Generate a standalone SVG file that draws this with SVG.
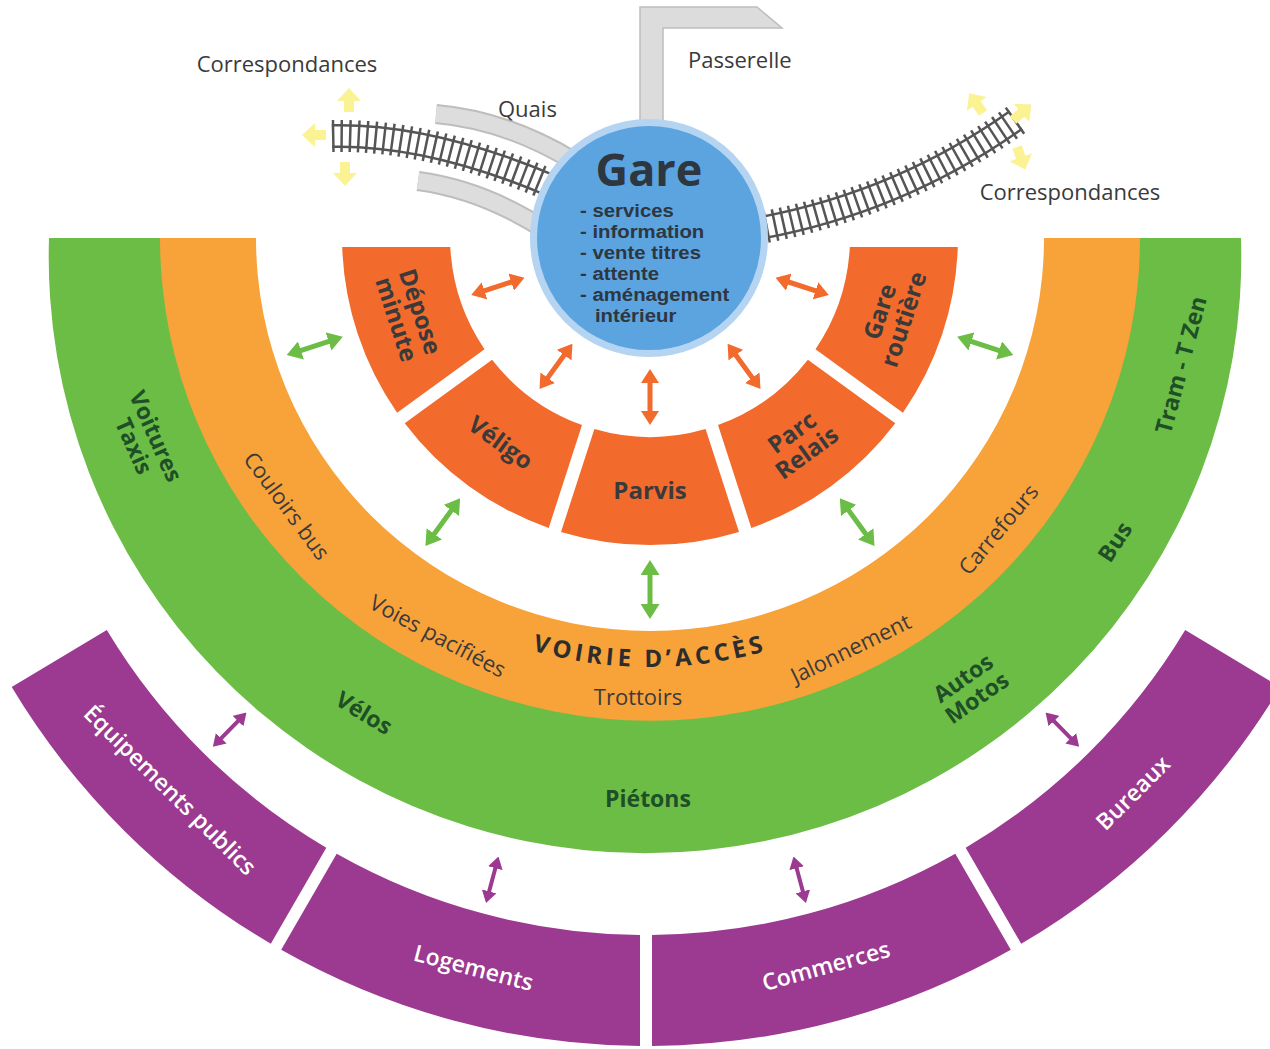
<svg xmlns="http://www.w3.org/2000/svg" width="1270" height="1049" viewBox="0 0 1270 1049">
<style>
text { font-family: "Open Sans", "Noto Sans", "Liberation Sans", sans-serif; }
.lbl { font-size: 22px; fill: #3a3a3a; }
.sec { font-size: 24px; font-weight: 700; fill: #3a3a3a; text-anchor: middle; }
.grn { font-size: 23px; font-weight: 700; fill: #1f4f27; text-anchor: middle; }
.org { font-size: 22px; fill: #3b3b3b; text-anchor: middle; }
.pur { font-size: 23px; font-weight: 600; fill: #ffffff; text-anchor: middle; }
.gl { font-family: "Liberation Sans", Arial, sans-serif; font-size: 18.5px; font-weight: 700; fill: #2e3640; }
.sector { fill: #f26a2c; }
.purple { fill: #9b3a90; }
.quai-o { fill: none; stroke: #bdbdbd; stroke-width: 20; }
.quai-i { fill: none; stroke: #dddddd; stroke-width: 16; }
.rail-o { fill: none; stroke: #555555; stroke-width: 24; }
.rail-i { fill: none; stroke: #ffffff; stroke-width: 19; }
.ties { fill: none; stroke: #555555; stroke-width: 32; stroke-dasharray: 2.5 6; }
.ya { fill: #fbf293; }
.a-o { stroke: #f26a2c; stroke-width: 5; fill: none; marker-start: url(#ah-o); marker-end: url(#ah-o); }
.a-g { stroke: #6cbd45; stroke-width: 5; fill: none; marker-start: url(#ah-g); marker-end: url(#ah-g); }
.a-p { stroke: #9b3a90; stroke-width: 4; fill: none; marker-start: url(#ah-p); marker-end: url(#ah-p); }
</style>
<defs>
<marker id="ah-o" viewBox="0 0 14 18" refX="2" refY="9" markerWidth="14" markerHeight="18" markerUnits="userSpaceOnUse" orient="auto-start-reverse"><path d="M0,0 L14,9 L0,18 Z" fill="#f26a2c"/></marker>
<marker id="ah-g" viewBox="0 0 15 19" refX="2" refY="9.5" markerWidth="15" markerHeight="19" markerUnits="userSpaceOnUse" orient="auto-start-reverse"><path d="M0,0 L15,9.5 L0,19 Z" fill="#6cbd45"/></marker>
<marker id="ah-p" viewBox="0 0 12 15" refX="2" refY="7.5" markerWidth="12" markerHeight="15" markerUnits="userSpaceOnUse" orient="auto-start-reverse"><path d="M0,0 L12,7.5 L0,15 Z" fill="#9b3a90"/></marker>
<path id="ya" d="M0,-5 L11,-5 L11,-12 L24,0 L11,12 L11,5 L0,5 Z"/>
<path id="voirieArc" d="M 220 237 A 430 430 0 0 0 1080 237"/>
</defs>
<rect x="0" y="0" width="1270" height="1049" fill="#ffffff"/>

<!-- Outer purple ring -->
<g id="equipements-publics">
<path class="purple" d="M 11.7 687.1 A 740 740 0 0 0 270.8 943.8 L 326.3 847.7 A 629 629 0 0 1 106.8 630.0 Z"/>
<text class="pur" transform="translate(170,790) rotate(44.5)" y="8">Équipements publics</text>
</g>
<g id="logements">
<path class="purple" d="M 281.2 949.8 A 740 740 0 0 0 640.0 1046.0 L 640.0 935.0 A 629 629 0 0 1 336.7 853.7 Z"/>
<text class="pur" transform="translate(473.6,967.9) rotate(14.6)" y="8">Logements</text>
</g>
<g id="commerces">
<path class="purple" d="M 652.0 1046.0 A 740 740 0 0 0 1010.8 949.8 L 955.3 853.7 A 629 629 0 0 1 652.0 935.0 Z"/>
<text class="pur" transform="translate(826,966) rotate(-15.4)" y="8">Commerces</text>
</g>
<g id="bureaux">
<path class="purple" d="M 1021.2 943.8 A 740 740 0 0 0 1280.3 687.1 L 1185.2 630.0 A 629 629 0 0 1 965.7 847.7 Z"/>
<text class="pur" transform="translate(1133,793) rotate(-45)" y="8">Bureaux</text>
</g>

<!-- Green band : modes -->
<g id="modes">
<path fill="#6cbd45" d="M 49 238 L 170 238 A 480 473 0 0 0 1130 238 L 1241 238 A 596.3 596.3 0 1 1 49 238 Z"/>
<text class="grn" transform="translate(144.7,441.2) rotate(66)"><tspan x="0" y="-4">Voitures</tspan><tspan x="0" y="20">Taxis</tspan></text>
<text class="grn" transform="translate(364,713) rotate(31)" y="8">Vélos</text>
<text class="grn" x="648" y="807">Piétons</text>
<text class="grn" transform="translate(970,688) rotate(-35)"><tspan x="0" y="-4">Autos</tspan><tspan x="0" y="20">Motos</tspan></text>
<text class="grn" transform="translate(1115,542) rotate(-57)" y="8">Bus</text>
<text class="grn" transform="translate(1181,365) rotate(-75)" y="8">Tram - T Zen</text>
</g>

<!-- Orange band : voirie -->
<g id="voirie-acces">
<path fill="#f8a23a" d="M 160 238 A 490 483 0 0 0 1140 238 L 1044 238 A 394 393 0 0 1 256 238 Z"/>
<text class="org" transform="translate(286.7,505.9) rotate(53.5)" y="7.7">Couloirs bus</text>
<text class="org" transform="translate(437.8,636.1) rotate(28)" y="7.7">Voies pacifiées</text>
<text class="org" x="638" y="705">Trottoirs</text>
<text class="org" transform="translate(850.8,648.6) rotate(-26)" y="7.7">Jalonnement</text>
<text class="org" transform="translate(998.5,529.5) rotate(-50)" y="7.7">Carrefours</text>
<text font-size="24" font-weight="700" fill="#2d2d2d" letter-spacing="4" text-anchor="middle"><textPath href="#voirieArc" startOffset="50%">VOIRIE D’ACCÈS</textPath></text>
</g>

<!-- Inner orange sectors -->
<g id="depose-minute">
<path class="sector" d="M 342.2 247 A 308 308 0 0 0 397.1 412.7 L 484.5 349.2 A 200 200 0 0 1 450.3 247 Z"/>
<text class="sec" transform="translate(408.4,315.5) rotate(72)"><tspan x="0" y="-4">Dépose</tspan><tspan x="0" y="21">minute</tspan></text>
</g>
<g id="veligo">
<path class="sector" d="M 404.7 423.2 A 308 308 0 0 0 548.7 527.9 L 582.0 425.1 A 200 200 0 0 1 492.1 359.7 Z"/>
<text class="sec" transform="translate(500.7,442.5) rotate(36)" y="8.4">Véligo</text>
</g>
<g id="parvis">
<path class="sector" d="M 561.0 531.9 A 308 308 0 0 0 739.0 531.9 L 705.6 429.1 A 200 200 0 0 1 594.4 429.1 Z"/>
<text class="sec" x="650" y="499">Parvis</text>
</g>
<g id="parc-relais">
<path class="sector" d="M 751.3 527.9 A 308 308 0 0 0 895.3 423.2 L 807.9 359.7 A 200 200 0 0 1 718.0 425.1 Z"/>
<text class="sec" transform="translate(799.3,442.5) rotate(-36)"><tspan x="0" y="-4">Parc</tspan><tspan x="0" y="21">Relais</tspan></text>
</g>
<g id="gare-routiere">
<path class="sector" d="M 902.9 412.7 A 308 308 0 0 0 957.8 247 L 849.8 247 A 200 200 0 0 1 815.5 349.2 Z"/>
<text class="sec" transform="translate(891.6,315.5) rotate(-72)"><tspan x="0" y="-4">Gare</tspan><tspan x="0" y="21">routière</tspan></text>
</g>

<!-- Rail elements -->
<g id="passerelle">
<path d="M640 7 H757 L782 28 H663 V140 H640 Z" fill="#dcdcdc" stroke="#bdbdbd" stroke-width="1.5"/>
<text class="lbl" x="688" y="68">Passerelle</text>
</g>
<g id="quais">
<path class="quai-o" d="M 436 114 Q 505 120 572 160"/>
<path class="quai-i" d="M 436 114 Q 505 120 572 160"/>
<path class="quai-o" d="M 418 181 Q 485 190 548 232"/>
<path class="quai-i" d="M 418 181 Q 485 190 548 232"/>
<text class="lbl" x="498" y="117">Quais</text>
</g>
<g id="voie-ouest">
<path class="rail-o" d="M 332 136 Q 430 134 552 186"/>
<path class="rail-i" d="M 332 136 Q 430 134 552 186"/>
<path class="ties" d="M 332 136 Q 430 134 552 186"/>
</g>
<g id="voie-est">
<path class="rail-o" d="M 760 228 Q 900 202 1016 120"/>
<path class="rail-i" d="M 760 228 Q 900 202 1016 120"/>
<path class="ties" d="M 1016 120 Q 900 202 760 228"/>
</g>
<g id="correspondances-ouest">
<use href="#ya" class="ya" transform="translate(349,112) rotate(-90)"/>
<use href="#ya" class="ya" transform="translate(326,135) rotate(180)"/>
<use href="#ya" class="ya" transform="translate(345,162) rotate(90)"/>
<text class="lbl" x="287" y="72" text-anchor="middle">Correspondances</text>
</g>
<g id="correspondances-est">
<use href="#ya" class="ya" transform="translate(983,113) rotate(-125)"/>
<use href="#ya" class="ya" transform="translate(1013,120) rotate(-40)"/>
<use href="#ya" class="ya" transform="translate(1017,147) rotate(70)"/>
<text class="lbl" x="1070" y="200" text-anchor="middle">Correspondances</text>
</g>

<!-- Gare -->
<g id="gare">
<circle cx="649" cy="238" r="115.5" fill="#5ba4e0" stroke="#b4d4f2" stroke-width="7"/>
<text x="649" y="186" font-size="45" font-weight="700" fill="#2e3640" text-anchor="middle">Gare</text>
<g transform="translate(580,0) scale(1.1,1)">
<text class="gl" x="0" y="217">- services</text>
<text class="gl" x="0" y="238">- information</text>
<text class="gl" x="0" y="259">- vente titres</text>
<text class="gl" x="0" y="280">- attente</text>
<text class="gl" x="0" y="301">- aménagement</text>
<text class="gl" x="13.6" y="322">intérieur</text>
</g>
</g>

<!-- Connectors -->
<g id="connectors">
<line class="a-o" x1="513.05" y1="281.50" x2="482.61" y2="291.39"/>
<line class="a-o" x1="565.36" y1="353.50" x2="546.55" y2="379.39"/>
<line class="a-o" x1="650" y1="381" x2="650" y2="413"/>
<line class="a-o" x1="734.64" y1="353.50" x2="753.45" y2="379.39"/>
<line class="a-o" x1="786.95" y1="281.50" x2="817.39" y2="291.39"/>
<line class="a-g" x1="330.44" y1="340.83" x2="299.06" y2="351.03"/>
<line class="a-g" x1="452.50" y1="508.83" x2="433.10" y2="535.53"/>
<line class="a-g" x1="650" y1="573" x2="650" y2="606"/>
<line class="a-g" x1="847.50" y1="508.83" x2="866.90" y2="535.53"/>
<line class="a-g" x1="969.56" y1="340.83" x2="1000.94" y2="351.03"/>
<line class="a-p" x1="239.47" y1="719.69" x2="219.85" y2="739.66"/>
<line class="a-p" x1="495.88" y1="866.24" x2="488.64" y2="893.29"/>
<line class="a-p" x1="796.12" y1="866.24" x2="803.36" y2="893.29"/>
<line class="a-p" x1="1052.53" y1="719.69" x2="1072.15" y2="739.66"/>
</g>
</svg>
